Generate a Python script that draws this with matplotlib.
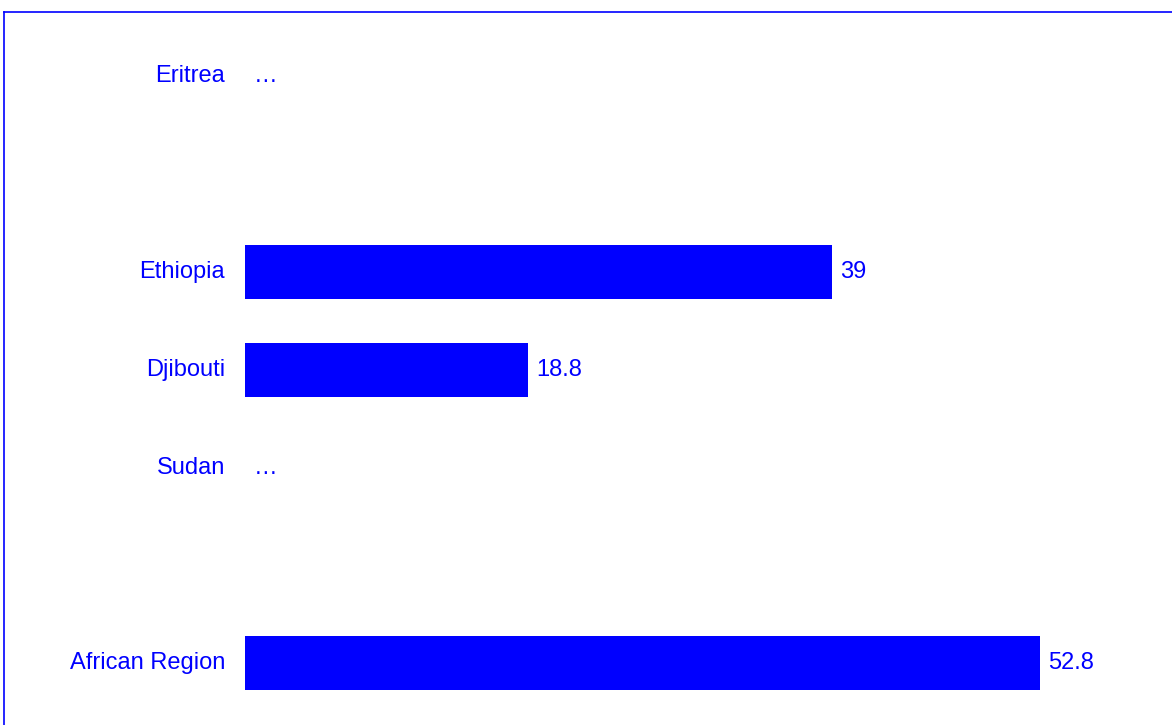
import matplotlib
matplotlib.use("Agg")
import matplotlib.pyplot as plt
from matplotlib.lines import Line2D

categories = ["Eritrea", "", "Ethiopia", "Djibouti", "Sudan", "", "African Region"]
values = [None, None, 39.0, 18.8, None, None, 52.8]
show_missing = [True, False, False, False, True, False, False]

W, H = 1172, 725
fig = plt.figure(figsize=(W / 100, H / 100), dpi=100)
plt.rcParams['font.family'] = ['Liberation Sans', 'DejaVu Sans']

ax = fig.add_axes([245 / W, 0, 1 - 245 / W, 1])
px_per_unit = 15.05
ax.set_xlim(0, (W - 245) / px_per_unit)
row = 97.75
top = 663 - 6 * row
ax.set_ylim((H - top) / row, -top / row)

blue = "#0000FF"
fs = 17
for i, (cat, v, miss) in enumerate(zip(categories, values, show_missing)):
    if cat:
        ax.annotate(cat, xy=(0, i), xytext=(-20, 0), textcoords="offset pixels",
                    ha="right", va="center", color=blue, fontsize=fs)
    if v is not None:
        ax.barh(i, v, height=0.55, color=blue)
        ax.annotate(f"{v:g}", xy=(v, i), xytext=(8, 0), textcoords="offset pixels",
                    ha="left", va="center", color=blue, fontsize=fs)
    elif miss:
        ax.annotate("\u2026", xy=(0, i), xytext=(9, 0), textcoords="offset pixels",
                    ha="left", va="center", color=blue, fontsize=fs)

ax.axis("off")

# frame
fig.add_artist(Line2D([4 / W, 1], [1 - 12 / H, 1 - 12 / H], color=blue, lw=1.2,
                      transform=fig.transFigure))
fig.add_artist(Line2D([4 / W, 4 / W], [1 - 12 / H, 0], color=blue, lw=1.2,
                      transform=fig.transFigure))

fig.savefig("out.png", dpi=100)
